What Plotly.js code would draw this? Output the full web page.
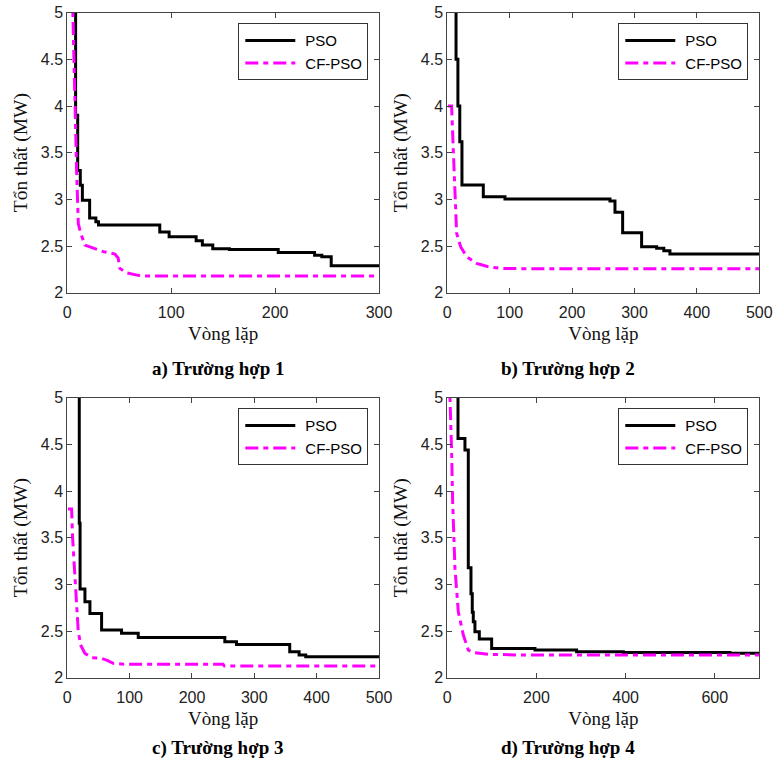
<!DOCTYPE html>
<html><head><meta charset="utf-8">
<script src="https://cdn.plot.ly/plotly-3.0.1.min.js"></script>
<style>html,body{margin:0;padding:0;background:#fff}</style>
</head><body><div id="chart" style="width:775px;height:769px"></div>
<script>
// ---- data ----
const seriesNames = ["PSO", "CF-PSO"];
const yLabel = "Tổn thất (MW)";
const xLabel = "Vòng lặp";
const captions = ["a) Trường hợp 1", "b) Trường hợp 2", "c) Trường hợp 3", "d) Trường hợp 4"];

// a) Trường hợp 1 (best-so-far steps)
const a_pso_x = [1, 8, 10, 12.5, 14.5, 21.5, 27.5, 30, 89, 98, 124, 130, 140, 156, 203, 238, 245, 254, 300];
const a_pso_y = [6.0, 3.9, 3.31, 3.15, 2.99, 2.80, 2.76, 2.725, 2.65, 2.60, 2.557, 2.51, 2.47, 2.462, 2.432, 2.40, 2.386, 2.289, 2.289];
const a_cf_x = [1, 5, 7.4, 9, 10.6, 12.8, 17, 25, 34.6, 45.8, 49, 50.6, 57, 68, 76, 300];
const a_cf_y = [7.0, 5.0, 3.9, 3.3, 2.74, 2.64, 2.51, 2.475, 2.44, 2.414, 2.37, 2.26, 2.214, 2.186, 2.18, 2.179];

// b) Trường hợp 2
const b_pso_x = [1, 14, 17, 20, 23.5, 57.7, 92.4, 260.7, 268.7, 281, 311.4, 335.5, 347, 356.8, 500];
const b_pso_y = [6.5, 4.5, 4.0, 3.618, 3.154, 3.029, 3.004, 2.982, 2.861, 2.643, 2.493, 2.475, 2.45, 2.414, 2.414];
const b_cf_x = [1, 6.9, 9.6, 12.3, 15, 21.4, 31, 47, 65.7, 84.4, 120, 500];
const b_cf_y = [4.0, 4.0, 3.53, 2.99, 2.636, 2.493, 2.386, 2.314, 2.279, 2.261, 2.257, 2.257];

// c) Trường hợp 3
const c_pso_x = [1, 19.2, 20.5, 28.3, 36.3, 55, 87, 113.8, 252.7, 271.4, 356.8, 371.8, 382.5, 500];
const c_pso_y = [6.5, 3.654, 2.95, 2.814, 2.689, 2.511, 2.475, 2.432, 2.386, 2.357, 2.279, 2.243, 2.225, 2.225];
const c_cf_x = [1, 6.9, 8.5, 10.7, 13.9, 17.6, 21.4, 28.3, 39, 55, 63, 73.7, 95, 250, 252, 500];
const c_cf_y = [3.807, 3.807, 3.5, 3.243, 2.814, 2.493, 2.35, 2.261, 2.214, 2.207, 2.189, 2.154, 2.143, 2.143, 2.125, 2.125];

// d) Trường hợp 4
const d_pso_x = [1, 24, 39.6, 47.1, 53.1, 56, 58.3, 62, 71.8, 99.5, 196.7, 290, 394.9, 634, 700];
const d_pso_y = [6.5, 4.564, 4.439, 3.179, 2.9, 2.7, 2.6, 2.493, 2.414, 2.314, 2.296, 2.279, 2.271, 2.261, 2.261];
const d_cf_x = [1, 6, 9.7, 12, 17.2, 24.7, 35.9, 47.1, 58.3, 95.7, 170.5, 700];
const d_cf_y = [7.0, 5.0, 4.42, 3.886, 3.171, 2.707, 2.457, 2.296, 2.268, 2.25, 2.243, 2.243];

const xMax = [300, 500, 500, 700];
const xDtick = [100, 100, 100, 200];

// ---- layout helpers ----
const W = 775, H = 769;
const px = v => v / W;
const py = v => 1 - v / H;
const colX = [[67.3, 379], [447.3, 759.3]];
const rowY = [[12.7, 292.7], [397.7, 677.7]];

const panels = [
  [a_pso_x, a_pso_y, a_cf_x, a_cf_y],
  [b_pso_x, b_pso_y, b_cf_x, b_cf_y],
  [c_pso_x, c_pso_y, c_cf_x, c_cf_y],
  [d_pso_x, d_pso_y, d_cf_x, d_cf_y]
];

const traces = [];
const layout = {
  width: W, height: H,
  margin: {l: 0, r: 0, t: 0, b: 0},
  paper_bgcolor: '#fff', plot_bgcolor: '#fff',
  showlegend: true,
  annotations: []
};

const sansFont = 'Liberation Sans, Arial, sans-serif';
const serifFont = 'Liberation Serif, Times New Roman, serif';

panels.forEach((p, i) => {
  const col = i % 2, row = Math.floor(i / 2);
  const n = i === 0 ? '' : String(i + 1);
  const xa = 'x' + n, ya = 'y' + n;
  const lg = i === 0 ? 'legend' : 'legend' + (i + 1);
  traces.push({
    x: p[0], y: p[1], xaxis: xa, yaxis: ya, mode: 'lines', name: seriesNames[0],
    line: {color: '#000000', width: 3, shape: 'hv'}, legend: lg, hoverinfo: 'skip'
  });
  traces.push({
    x: p[2], y: p[3], xaxis: xa, yaxis: ya, mode: 'lines', name: seriesNames[1],
    line: {color: '#ff00ff', width: 3, dash: '13px,5px,5px,5px'}, legend: lg, hoverinfo: 'skip'
  });
  const axCommon = {
    showgrid: false, zeroline: false, showline: true, mirror: 'ticks',
    linecolor: '#444', linewidth: 1, ticks: 'inside', ticklen: 5, tickcolor: '#444',
    tickfont: {family: sansFont, size: 16, color: '#222'}
  };
  layout['xaxis' + n] = Object.assign({}, axCommon, {
    domain: [px(colX[col][0]), px(colX[col][1])],
    range: [0, xMax[i]], dtick: xDtick[i], tick0: 0,
    anchor: ya, ticklabelstandoff: 5,
    title: {text: xLabel, font: {family: serifFont, size: 19, color: '#111'}, standoff: 6}
  });
  layout['yaxis' + n] = Object.assign({}, axCommon, {
    domain: [py(rowY[row][1]), py(rowY[row][0])],
    range: [2, 5], dtick: 0.5, tick0: 2,
    anchor: xa,
    title: {text: yLabel, font: {family: serifFont, size: 19.5, color: '#111'}, standoff: 8}
  });
  layout[lg] = {
    x: px(colX[col][0] + 301), xanchor: 'right', xref: 'paper',
    y: py(rowY[row][0] + 10.6), yanchor: 'top', yref: 'paper',
    bgcolor: '#fff', bordercolor: '#333', borderwidth: 1,
    font: {family: sansFont, size: 15, color: '#000'},
    tracegroupgap: 0, itemwidth: 56
  };
  layout.annotations.push({
    text: '<b>' + captions[i] + '</b>', xref: 'paper', yref: 'paper',
    x: px(col === 0 ? 218 : 568), y: py(row === 0 ? 369 : 748),
    xanchor: 'center', yanchor: 'middle', showarrow: false,
    font: {family: serifFont, size: 19, color: '#000'}
  });
});

Plotly.newPlot('chart', traces, layout, {staticPlot: true}).then(gd => {
  // lengthen legend line samples to match the reference's long swatches
  gd.querySelectorAll('.legendlines path').forEach(el => el.setAttribute('d', 'M6,0h50'));
});
</script>
</body></html>
